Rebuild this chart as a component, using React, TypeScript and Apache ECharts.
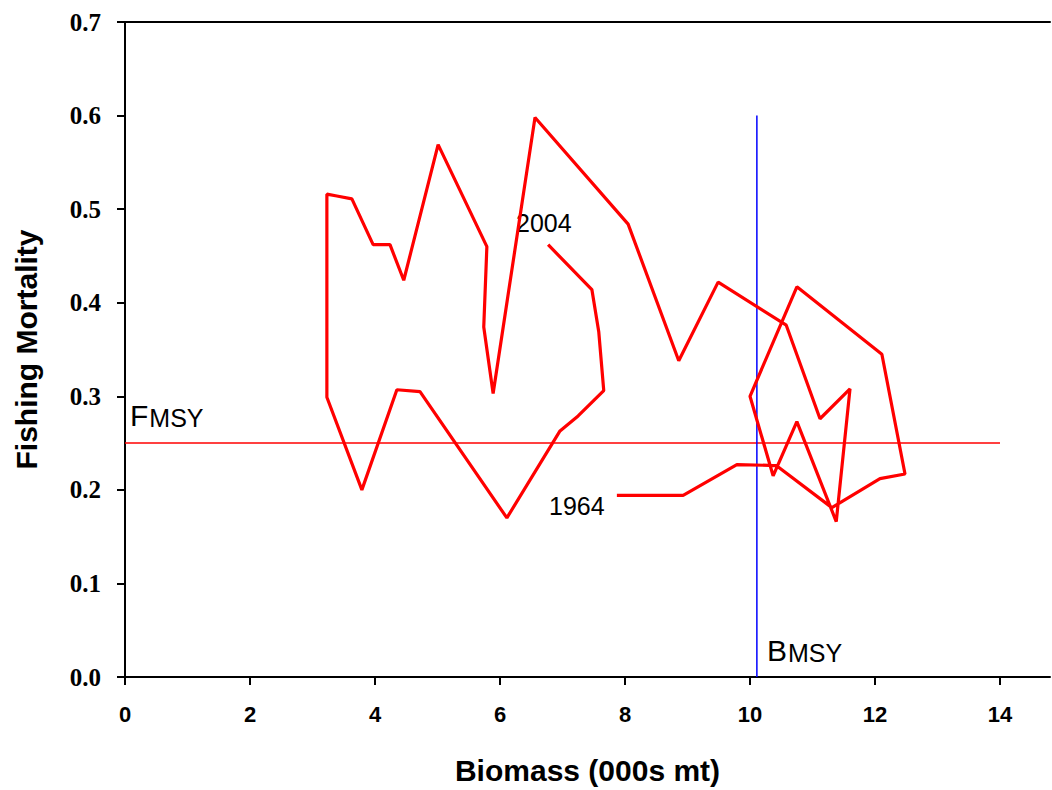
import React, { useEffect, useRef } from "react";
import * as echarts from "echarts";

// Biomass (000s mt) by year, 1964 -> 2004
const years: number[] = Array.from({ length: 41 }, (_, i) => 1964 + i);
const biomass: number[] = [
  7.87, 8.93, 9.79, 10.42, 11.31, 12.08, 12.48, 12.11, 10.75, 10.0,
  10.37, 10.75, 11.38, 11.6, 11.12, 10.58, 9.49, 8.86, 8.05, 6.56,
  5.89, 5.74, 5.79, 5.01, 4.46, 4.24, 3.97, 3.63, 3.39, 3.23,
  3.23, 3.79, 4.35, 4.72, 6.11, 6.96, 7.25, 7.66, 7.58, 7.47, 6.77,
];
const fishingMortality: number[] = [
  0.194, 0.194, 0.227, 0.226, 0.181, 0.212, 0.217, 0.345, 0.417, 0.3,
  0.215, 0.273, 0.166, 0.308, 0.276, 0.376, 0.422, 0.338, 0.484, 0.598,
  0.303, 0.374, 0.46, 0.569, 0.424, 0.462, 0.462, 0.511, 0.514, 0.516,
  0.299, 0.2, 0.307, 0.305, 0.17, 0.263, 0.279, 0.306, 0.369, 0.414, 0.462,
];
const fMSY = 0.25;
const bMSY = 10.11;
const fMSYLineX: number[] = [0, 14];
const bMSYLineY: number[] = [0, 0.6];
const xTicks: number[] = [0, 2, 4, 6, 8, 10, 12, 14];
const yTicks: string[] = ["0.0", "0.1", "0.2", "0.3", "0.4", "0.5", "0.6", "0.7"];

export default function App() {
  const ref = useRef<HTMLDivElement>(null);
  useEffect(() => {
    if (!ref.current) return;
    const chart = echarts.init(ref.current, null, { renderer: "svg" });
    const traj = biomass.map((b, i) => [b, fishingMortality[i]]);
    const labelFont = "Liberation Sans";
    const richMSY = {
      a: { fontFamily: "Liberation Sans", fontSize: 30, fill: "#000", verticalAlign: "bottom" },
      b: { fontFamily: "Liberation Sans", fontSize: 25, fill: "#000", verticalAlign: "bottom", padding: [0, 0, 0, 1] },
    };
    chart.setOption({
      animation: false,
      backgroundColor: "#ffffff",
      grid: { left: 125, top: 22, width: 925, height: 657, containLabel: false },
      xAxis: [
        {
          type: "value",
          min: 0,
          max: 14.8,
          interval: 2,
          name: "Biomass (000s mt)",
          nameLocation: "middle",
          nameGap: 78,
          nameTextStyle: { fontFamily: labelFont, fontWeight: "bold", fontSize: 30, color: "#000" },
          axisLine: { show: true, onZero: false, lineStyle: { color: "#000", width: 2 } },
          axisTick: { show: true, length: 8, lineStyle: { color: "#000", width: 2 } },
          axisLabel: {
            show: true,
            showMaxLabel: false,
            margin: 26,
            fontFamily: labelFont,
            fontWeight: "bold",
            fontSize: 22,
            color: "#000",
            formatter: (v: number) => (xTicks.indexOf(v) >= 0 ? String(v) : ""),
          },
          splitLine: { show: false },
        },
        {
          type: "value",
          position: "top",
          min: 0,
          max: 14.8,
          axisLine: { show: true, onZero: false, lineStyle: { color: "#000", width: 2 } },
          axisTick: { show: false },
          axisLabel: { show: false },
          splitLine: { show: false },
        },
      ],
      yAxis: {
        type: "value",
        min: 0,
        max: 0.7,
        interval: 0.1,
        name: "Fishing Mortality",
        nameLocation: "middle",
        nameGap: 84,
        nameRotate: 90,
        nameTextStyle: { fontFamily: labelFont, fontWeight: "bold", fontSize: 30, color: "#000" },
        axisLine: { show: true, onZero: false, lineStyle: { color: "#000", width: 2 } },
        axisTick: { show: true, length: 8, lineStyle: { color: "#000", width: 2 } },
        axisLabel: {
          margin: 24,
          fontFamily: "Liberation Serif",
          fontWeight: "bold",
          fontSize: 25,
          color: "#000",
          formatter: (v: number) => yTicks[Math.round(v * 10)] ?? "",
        },
        splitLine: { show: false },
      },
      series: [
        {
          type: "line",
          name: "FMSY",
          data: fMSYLineX.map((x) => [x, fMSY]),
          showSymbol: false,
          lineStyle: { color: "#ff0000", width: 1.5 },
          z: 1,
        },
        {
          type: "line",
          name: "BMSY",
          data: bMSYLineY.map((y) => [bMSY, y]),
          showSymbol: false,
          lineStyle: { color: "#0000ff", width: 1.5 },
          z: 1,
        },
        {
          type: "line",
          name: "Trajectory",
          data: traj,
          showSymbol: false,
          lineStyle: { color: "#ff0000", width: 3.2 },
          z: 3,
        },
      ],
      graphic: [
        {
          type: "text",
          left: 516,
          top: 210,
          style: { text: String(years[years.length - 1]), font: "25px 'Liberation Sans'", fill: "#000" },
        },
        {
          type: "text",
          left: 549,
          top: 493,
          style: { text: String(years[0]), font: "25px 'Liberation Sans'", fill: "#000" },
        },
        {
          type: "text",
          left: 130,
          top: 400,
          style: { text: "{a|F}{b|MSY}", rich: richMSY },
        },
        {
          type: "text",
          left: 767,
          top: 635,
          style: { text: "{a|B}{b|MSY}", rich: richMSY },
        },
      ],
    });
    return () => chart.dispose();
  }, []);
  return (
    <div
      ref={ref}
      style={{ position: "fixed", left: 0, top: 0, width: 1052, height: 790, background: "#fff" }}
    />
  );
}
